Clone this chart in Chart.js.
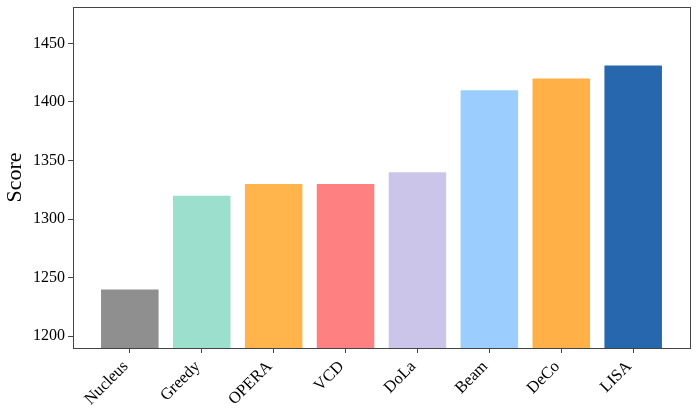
<!DOCTYPE html>
<html>
<head>
<meta charset="utf-8">
<script src="https://cdn.jsdelivr.net/npm/chart.js@4/dist/chart.umd.min.js"></script>
<style>
  html, body { margin: 0; padding: 0; background: #fff; }
  #wrap { width: 698px; height: 415px; }
</style>
</head>
<body>
<div id="wrap"><canvas id="barChart" width="698" height="415"></canvas></div>
<script>
const methods = ['Nucleus', 'Greedy', 'OPERA', 'VCD', 'DoLa', 'Beam', 'DeCo', 'LISA'];
const scores = [1240, 1320, 1330, 1330, 1340, 1410, 1420, 1431];
const yTicks = [1200, 1250, 1300, 1350, 1400, 1450];
const barColors = [
  '#8f8f8f', // Nucleus
  '#9ddfcd', // Greedy
  '#ffb54b', // OPERA
  '#ff8080', // VCD
  '#cbc6e9', // DoLa
  '#9bcdff', // Beam
  '#ffb147', // DeCo
  '#2767ae'  // LISA
];

const serif = 'Liberation Serif';

// box around the plot, like matplotlib spines
const frame = {
  id: 'frame',
  afterDraw(chart) {
    const a = chart.chartArea;
    const c = chart.ctx;
    c.save();
    c.strokeStyle = '#444';
    c.lineWidth = 1;
    c.strokeRect(Math.round(a.left) + 0.5, Math.round(a.top) + 0.5,
      Math.round(a.right - a.left), Math.round(a.bottom - a.top));
    c.restore();
  }
};

const ctx = document.getElementById('barChart').getContext('2d');

new Chart(ctx, {
  type: 'bar',
  data: {
    datasets: [{
      data: methods.map((m, i) => ({ x: i, y: scores[i] })),
      backgroundColor: barColors,
      borderWidth: 0,
      barPercentage: 0.8,
      categoryPercentage: 1.0
    }]
  },
  options: {
    responsive: false,
    animation: false,
    layout: { padding: { left: 0, right: 8, top: 7, bottom: 0 } },
    plugins: {
      legend: { display: false },
      tooltip: { enabled: false }
    },
    scales: {
      x: {
        type: 'linear',
        offset: false,
        min: -0.79,
        max: 7.79,
        afterBuildTicks: s => { s.ticks = methods.map((m, i) => ({ value: i })); },
        afterFit: s => { s.height = 67; s.paddingLeft = 0; s.paddingRight = 0; },
        border: { display: false },
        grid: { offset: false, drawOnChartArea: false, tickLength: 5, color: '#444' },
        ticks: {
          callback: v => methods[v],
          maxRotation: 45,
          minRotation: 45,
          padding: 4,
          labelOffset: -4,
          color: '#000',
          font: { family: serif, size: 16.5 }
        }
      },
      y: {
        min: 1190,
        max: 1481,
        afterBuildTicks: s => { s.ticks = yTicks.map(v => ({ value: v })); },
        afterFit: s => { s.width = 73; s.paddingTop = 0; s.paddingBottom = 0; },
        border: { display: false },
        grid: { drawOnChartArea: false, tickLength: 5, color: '#444' },
        ticks: {
          callback: v => String(v),
          padding: 3,
          color: '#000',
          font: { family: serif, size: 16 }
        },
        title: {
          display: true,
          text: 'Score',
          color: '#000',
          padding: { top: 2, bottom: 0 },
          font: { family: serif, size: 22 }
        }
      }
    }
  },
  plugins: [frame]
});
</script>
</body>
</html>
